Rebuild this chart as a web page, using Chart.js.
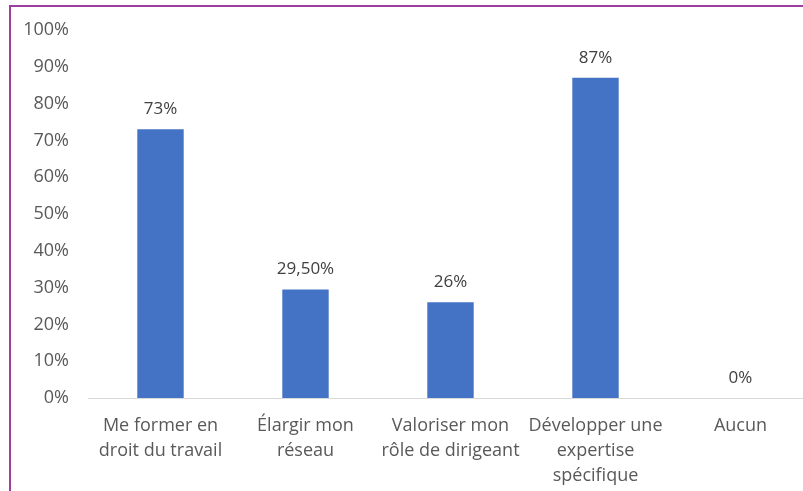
<!DOCTYPE html>
<html>
<head>
<meta charset="utf-8">
<script src="https://cdn.jsdelivr.net/npm/chart.js@4/dist/chart.umd.min.js"></script>
<style>
  html, body { margin: 0; padding: 0; background: #fff; overflow: hidden; }
  #frame {
    position: absolute; left: 9px; top: 5px;
    width: 830px; height: 500px;
    border-top: 2px solid #9e3f9e; border-left: 2px solid #9e3f9e;
  }
  #chartBox { position: absolute; left: 0; top: 0; width: 820px; height: 484px; }
</style>
</head>
<body>
<div id="frame">
  <div id="chartBox"><canvas id="barChart" width="820" height="484"></canvas></div>
</div>
<script>
// Catégories (axe X), valeurs en %
const categories = [
  ["Me former en", "droit du travail"],
  ["Élargir mon", "réseau"],
  ["Valoriser mon", "rôle de dirigeant"],
  ["Développer une", "expertise", "spécifique"],
  ["Aucun"]
];
const values = [73, 29.5, 26, 87, 0];
const yTicks = [0, 10, 20, 30, 40, 50, 60, 70, 80, 90, 100];

// format français : 29.5 -> "29,50%"
function fmtPct(v) {
  if (v % 1 !== 0) return v.toFixed(2).replace(".", ",") + "%";
  return v + "%";
}

// étiquettes de données au-dessus des barres
const dataLabels = {
  id: "dataLabels",
  afterDatasetsDraw(chart) {
    const ctx = chart.ctx;
    const meta = chart.getDatasetMeta(0);
    ctx.save();
    ctx.font = "17px 'Open Sans'";
    ctx.fillStyle = "#404040";
    ctx.textAlign = "center";
    ctx.textBaseline = "middle";
    meta.data.forEach((bar, i) => {
      ctx.fillText(fmtPct(values[i]), bar.x, bar.y - 20);
    });
    ctx.restore();
  }
};

new Chart(document.getElementById("barChart"), {
  type: "bar",
  data: {
    labels: categories,
    datasets: [{
      data: values,
      backgroundColor: "#4472c4",
      borderWidth: 0,
      categoryPercentage: 1,
      barPercentage: 0.32
    }]
  },
  options: {
    responsive: false,
    animation: false,
    devicePixelRatio: 1,
    layout: { padding: { top: 23, right: 18, left: 0, bottom: 0 } },
    plugins: {
      legend: { display: false },
      tooltip: { enabled: false }
    },
    scales: {
      x: {
        grid: { display: false },
        border: { display: true, color: "#d9d9d9", width: 1 },
        ticks: {
          color: "#595959",
          font: { family: "'Open Sans'", size: 18, lineHeight: 1.39 },
          padding: 7,
          maxRotation: 0,
          autoSkip: false
        },
        afterFit: (scale) => { scale.height = 93; }
      },
      y: {
        min: 0,
        max: 100,
        afterBuildTicks: (scale) => { scale.ticks = yTicks.map((v) => ({ value: v })); },
        grid: { display: false },
        border: { display: false },
        ticks: {
          color: "#595959",
          font: { family: "'Open Sans'", size: 18 },
          padding: 11,
          callback: (v) => v + "%"
        },
        afterFit: (scale) => { scale.width = 77; }
      }
    }
  },
  plugins: [dataLabels]
});
</script>
</body>
</html>
